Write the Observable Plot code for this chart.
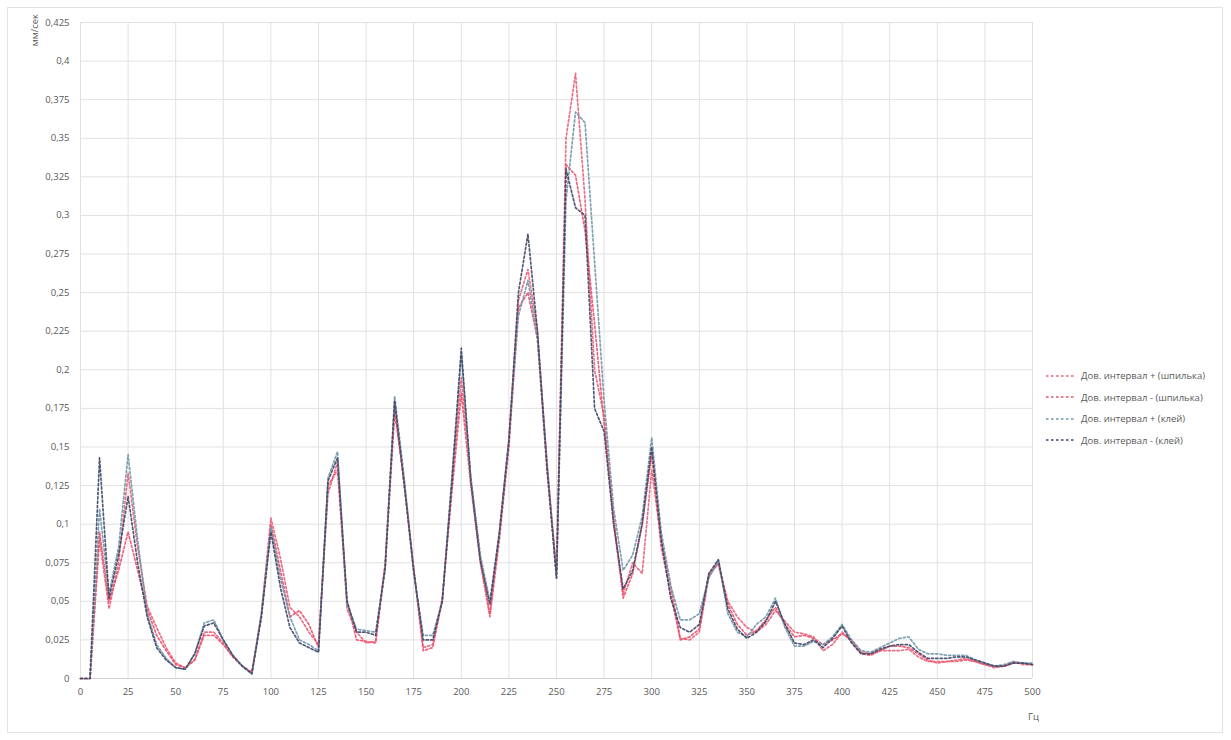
<!DOCTYPE html>
<html><head><meta charset="utf-8">
<script src="https://cdn.jsdelivr.net/npm/d3@7"></script>
<script src="https://cdn.jsdelivr.net/npm/@observablehq/plot@0.6"></script>
<style>
body{margin:0;background:#fff;font-family:"Open Sans",sans-serif;}
#wrap{position:relative;width:1231px;height:740px;overflow:hidden}
#frame{position:absolute;left:7px;top:7px;width:1216px;height:726px;border:1px solid #e3e3e3;box-sizing:border-box}
#ylab{position:absolute;left:28px;top:14px;font-size:9.5px;color:#595959;writing-mode:vertical-rl;transform:rotate(180deg)}
#xlab{position:absolute;left:1028px;top:710px;font-size:9.5px;color:#595959}
#legend{position:absolute;left:1045px;top:365px;font-size:9.5px;color:#595959}
#legend .row{display:flex;align-items:center;height:21.5px}
#legend svg{margin-right:6px}
#chart{position:absolute;left:0;top:0}
</style></head>
<body>
<div id="wrap"><div id="frame"></div><div id="chart"></div><div id="ylab">мм/сек</div><div id="xlab">Гц</div><div id="legend"></div></div>
<script>
const freq = [0,5,10,15,20,25,30,35,40,45,50,55,60,65,70,75,80,85,90,95,100,105,110,115,120,125,130,135,140,145,150,155,160,165,170,175,180,185,190,195,200,205,210,215,220,225,230,235,240,245,250,255,260,265,270,275,280,285,290,295,300,305,310,315,320,325,330,335,340,345,350,355,360,365,370,375,380,385,390,395,400,405,410,415,420,425,430,435,440,445,450,455,460,465,470,475,480,485,490,495,500];

const seriesNames = ["Дов. интервал + (шпилька)","Дов. интервал - (шпилька)","Дов. интервал + (клей)","Дов. интервал - (клей)"];
const seriesColors = ["#e8607a","#f0506a","#6f97a8","#3e4668"];

const plusPin = [0,0,0.09,0.045,0.075,0.133,0.085,0.047,0.033,0.02,0.01,0.007,0.012,0.03,0.03,0.023,0.014,0.008,0.004,0.042,0.104,0.078,0.046,0.04,0.03,0.022,0.12,0.14,0.045,0.03,0.023,0.024,0.075,0.178,0.125,0.07,0.02,0.022,0.05,0.125,0.195,0.13,0.078,0.042,0.095,0.155,0.245,0.265,0.225,0.14,0.07,0.35,0.392,0.31,0.2,0.17,0.1,0.055,0.075,0.068,0.135,0.09,0.06,0.026,0.025,0.03,0.066,0.075,0.05,0.04,0.033,0.03,0.035,0.044,0.037,0.03,0.029,0.027,0.018,0.022,0.03,0.024,0.016,0.015,0.018,0.018,0.018,0.019,0.014,0.011,0.011,0.011,0.012,0.013,0.011,0.009,0.007,0.008,0.011,0.009,0.009];
const minusPin = [0,0,0.095,0.05,0.07,0.095,0.07,0.045,0.028,0.018,0.009,0.007,0.012,0.028,0.028,0.022,0.014,0.008,0.004,0.04,0.1,0.07,0.04,0.044,0.035,0.02,0.125,0.135,0.05,0.025,0.024,0.023,0.072,0.172,0.128,0.072,0.018,0.02,0.052,0.12,0.185,0.125,0.075,0.04,0.09,0.15,0.24,0.25,0.22,0.135,0.068,0.333,0.326,0.29,0.23,0.165,0.105,0.052,0.068,0.1,0.145,0.085,0.055,0.025,0.027,0.032,0.068,0.074,0.048,0.035,0.028,0.031,0.038,0.046,0.035,0.027,0.028,0.026,0.022,0.025,0.029,0.025,0.017,0.016,0.018,0.021,0.021,0.02,0.016,0.012,0.01,0.011,0.011,0.012,0.011,0.009,0.008,0.008,0.01,0.01,0.009];
const plusGlue = [0,0,0.11,0.055,0.085,0.145,0.09,0.042,0.022,0.013,0.007,0.006,0.016,0.036,0.038,0.025,0.015,0.008,0.003,0.042,0.098,0.065,0.04,0.025,0.022,0.018,0.13,0.147,0.048,0.032,0.031,0.03,0.07,0.183,0.13,0.068,0.028,0.028,0.05,0.13,0.21,0.13,0.08,0.05,0.095,0.155,0.235,0.258,0.22,0.14,0.065,0.31,0.367,0.36,0.27,0.18,0.11,0.07,0.08,0.105,0.156,0.095,0.06,0.038,0.038,0.042,0.065,0.077,0.042,0.03,0.027,0.035,0.04,0.052,0.033,0.021,0.021,0.024,0.022,0.027,0.035,0.025,0.018,0.017,0.02,0.023,0.026,0.027,0.019,0.016,0.016,0.015,0.015,0.015,0.012,0.01,0.008,0.009,0.011,0.01,0.01];
const minusGlue = [0,0,0.143,0.052,0.08,0.118,0.075,0.04,0.02,0.012,0.007,0.006,0.016,0.034,0.036,0.025,0.015,0.008,0.003,0.04,0.095,0.059,0.033,0.023,0.02,0.017,0.128,0.143,0.05,0.03,0.03,0.028,0.072,0.18,0.126,0.07,0.025,0.025,0.05,0.126,0.214,0.128,0.076,0.048,0.094,0.154,0.25,0.288,0.225,0.137,0.065,0.33,0.305,0.3,0.175,0.16,0.1,0.058,0.07,0.1,0.15,0.09,0.052,0.033,0.03,0.035,0.068,0.077,0.045,0.032,0.026,0.03,0.037,0.05,0.035,0.023,0.022,0.025,0.02,0.026,0.034,0.023,0.016,0.016,0.019,0.021,0.022,0.022,0.017,0.013,0.013,0.013,0.014,0.014,0.012,0.01,0.008,0.008,0.01,0.01,0.009];

const xTicks = [0,25,50,75,100,125,150,175,200,225,250,275,300,325,350,375,400,425,450,475,500];
const yTicks = [0,0.025,0.05,0.075,0.1,0.125,0.15,0.175,0.2,0.225,0.25,0.275,0.3,0.325,0.35,0.375,0.4,0.425];

const allSeries = [plusPin, minusPin, plusGlue, minusGlue];
const rows = [];
allSeries.forEach((vals, si) => vals.forEach((v, i) => rows.push({f: freq[i], v, s: seriesNames[si]})));

const fmt = d => String(d).replace(".", ",");

const chart = Plot.plot({
  width: 1231, height: 740,
  marginLeft: 80, marginRight: 199, marginTop: 22, marginBottom: 62,
  style: {fontFamily: "Open Sans, sans-serif", fontSize: "9.5px", color: "#595959", background: "transparent"},
  x: {domain: [0, 500]},
  y: {domain: [0, 0.425]},
  color: {domain: seriesNames, range: seriesColors},
  marks: [
    Plot.gridX(xTicks, {stroke: "#e1e1e1", strokeOpacity: 1}),
    Plot.gridY(yTicks, {stroke: "#e1e1e1", strokeOpacity: 1}),
    Plot.ruleY([0], {stroke: "#cfcfcf"}),
    Plot.axisX(xTicks, {tickSize: 0, tickPadding: 10, tickFormat: d => String(d), label: null}),
    Plot.axisY(yTicks, {tickSize: 0, tickPadding: 11, tickFormat: fmt, label: null}),
    Plot.line(rows, {x: "f", y: "v", z: "s", stroke: "s", strokeWidth: 1.7, strokeDasharray: "2.2,2.2", strokeOpacity: 0.9, curve: "linear"})
  ]
});
document.getElementById("chart").appendChild(chart);

const leg = document.getElementById("legend");
seriesNames.forEach((n, i) => {
  const row = document.createElement("div");
  row.className = "row";
  row.innerHTML = `<svg width="30" height="6"><line x1="1" y1="3" x2="30" y2="3" stroke="${seriesColors[i]}" stroke-width="1.6" stroke-dasharray="2.5,2.5"/></svg><span>${n}</span>`;
  leg.appendChild(row);
});
</script>
</body></html>
